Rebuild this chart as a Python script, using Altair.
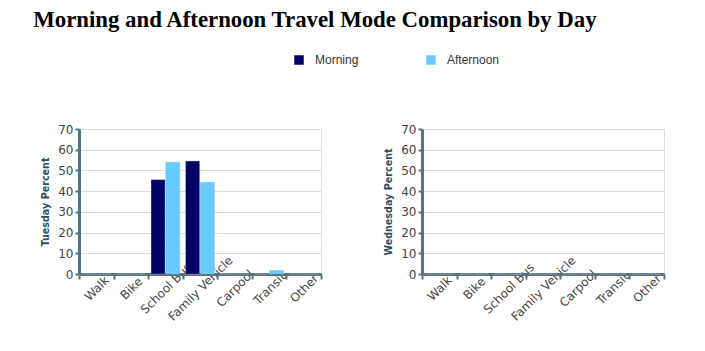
import altair as alt
import pandas as pd

modes = ["Walk", "Bike", "School Bus", "Family Vehicle", "Carpool", "Transit", "Other"]
sessions = ["Morning", "Afternoon"]
days = ["Tuesday", "Wednesday"]

tuesday_morning = [0, 0, 45.5, 54.5, 0, 0, 0]
tuesday_afternoon = [0, 0, 54.0, 44.3, 0, 1.7, 0]
wednesday_morning = [0, 0, 0, 0, 0, 0, 0]
wednesday_afternoon = [0, 0, 0, 0, 0, 0, 0]

series = {
    ("Tuesday", "Morning"): tuesday_morning,
    ("Tuesday", "Afternoon"): tuesday_afternoon,
    ("Wednesday", "Morning"): wednesday_morning,
    ("Wednesday", "Afternoon"): wednesday_afternoon,
}
rows = []
for (day, sess), vals in series.items():
    for m, v in zip(modes, vals):
        rows.append({"Day": day, "Session": sess, "Mode": m, "Percent": v})
df = pd.DataFrame(rows)

AXIS_COL = "#56737f"
LABEL_FONT = "DejaVu Sans"


def panel(day, show_legend):
    return (
        alt.Chart(df)
        .transform_filter(alt.datum.Day == day)
        .mark_bar(stroke="#9ab", strokeWidth=0.4)
        .encode(
            x=alt.X(
                "Mode:N",
                sort=modes,
                scale=alt.Scale(paddingInner=0, paddingOuter=0),
                axis=alt.Axis(
                    title=None,
                    labelAngle=-45,
                    labelAlign="center",
                    labelBaseline="middle",
                    labelPadding=9,
                    tickBand="extent",
                    tickSize=5,
                    tickWidth=2,
                    tickColor=AXIS_COL,
                    domainColor=AXIS_COL,
                    domainWidth=3,
                    labelFont=LABEL_FONT,
                    labelFontSize=12,
                    labelColor="#444444",
                    gridColor="#dddddd",
                    labelOverlap=False,
                ),
            ),
            xOffset=alt.XOffset(
                "Session:N",
                sort=sessions,
                scale=alt.Scale(paddingOuter=0.2, paddingInner=0.05),
            ),
            y=alt.Y(
                "Percent:Q",
                scale=alt.Scale(domain=[0, 70], nice=False),
                axis=alt.Axis(
                    title=f"{day} Percent",
                    values=[0, 10, 20, 30, 40, 50, 60, 70],
                    titleFont=LABEL_FONT,
                    titleFontSize=9.6,
                    titleFontWeight="bold",
                    titleColor="#2e4d5e",
                    titlePadding=7,
                    tickSize=4,
                    tickWidth=2,
                    tickColor=AXIS_COL,
                    domainColor=AXIS_COL,
                    domainWidth=3,
                    labelFont=LABEL_FONT,
                    labelFontSize=12,
                    labelColor="#444444",
                    labelPadding=2,
                    gridColor="#dddddd",
                ),
            ),
            color=alt.Color(
                "Session:N",
                sort=sessions,
                scale=alt.Scale(domain=sessions, range=["#000066", "#66ccff"]),
                legend=alt.Legend(
                    title=None,
                    orient="none",
                    direction="horizontal",
                    legendX=214,
                    legendY=-75,
                    symbolType="square",
                    symbolSize=90,
                    symbolStrokeWidth=0,
                    labelFont="Liberation Sans",
                    labelFontSize=12,
                    labelColor="#333333",
                    columnPadding=66,
                    labelOffset=10,
                ) if show_legend else None,
            ),
        )
        .properties(width=242, height=145)
    )


chart = (
    alt.hconcat(panel("Tuesday", True), panel("Wednesday", True), spacing=101, bounds="flush")
    .properties(
        title=alt.TitleParams(
            "Morning and Afternoon Travel Mode Comparison by Day",
            anchor="start",
            font="Liberation Serif",
            fontSize=22.8,
            fontWeight="bold",
            color="#000000",
            dx=-7,
            offset=22,
        ),
        padding={"left": 33, "top": 9, "right": 5, "bottom": 5},
    )
    .configure_view(stroke="#dddddd")
    .resolve_scale(color="shared")
)

chart.save("out.html", embed_options={"renderer": "svg", "actions": False})
